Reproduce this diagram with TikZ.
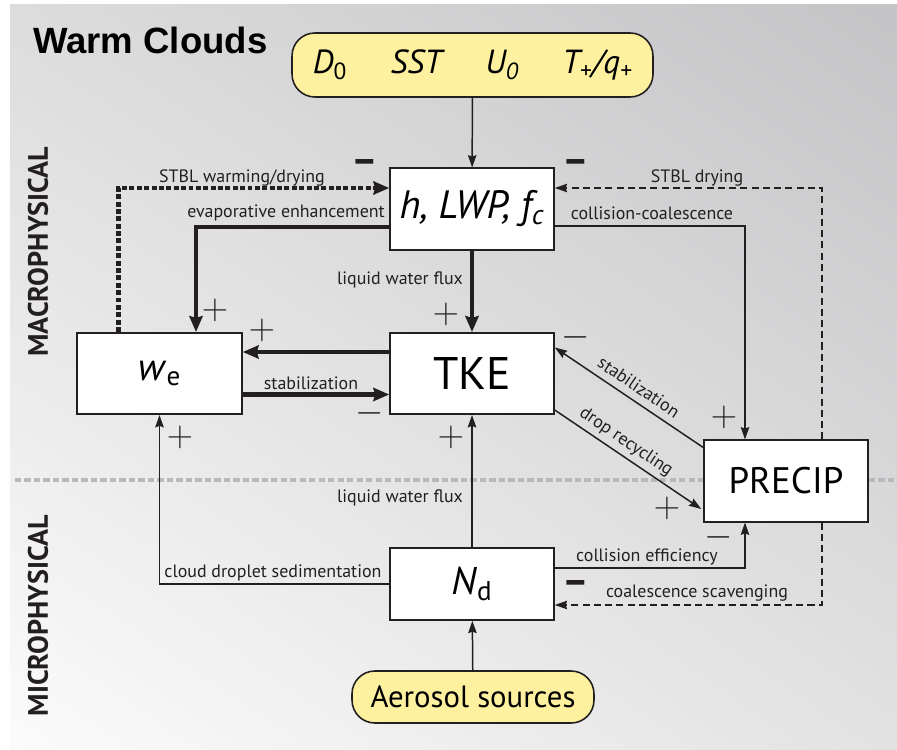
\documentclass[tikz,border=0pt]{standalone}
\usepackage{fontspec}
\setmainfont{PT Sans}
\newfontfamily\titlefont{Liberation Sans}
\usepackage{tikz}
\usetikzlibrary{arrows.meta, positioning, calc, shadings}
\definecolor{YL}{RGB}{253,241,160}
\definecolor{DG}{RGB}{35,31,32}
\definecolor{SEP}{RGB}{185,185,187}
\definecolor{BGul}{RGB}{220,220,221}
\definecolor{BGur}{RGB}{196,196,198}
\definecolor{BGll}{RGB}{251,251,251}
\definecolor{BGlr}{RGB}{226,226,227}

\begin{document}
\begin{tikzpicture}[x=0.02cm, y=-0.02cm,
  box/.style={draw=DG, line width=0.9pt, fill=white, inner sep=0pt,
              minimum width=3.28cm, minimum height=1.63cm, align=center},
  src/.style={draw=DG, line width=0.9pt, fill=YL, rounded corners=13pt,
              inner sep=0pt, align=center},
  lbl/.style={font=\fontsize{10.2}{11}\selectfont, text=DG, inner sep=0pt},
  sgn/.style={font=\fontsize{22}{22}\selectfont, text=DG, inner sep=0pt},
  bsgn/.style={font=\fontsize{23}{23}\selectfont\bfseries, text=DG, inner sep=0pt},
  thn/.style={draw=DG, line width=0.85pt, -{Stealth[length=7pt, width=4.8pt, inset=0.8pt]}},
  thk/.style={draw=DG, line width=2.7pt, -{Stealth[length=9pt, width=7.5pt, inset=1pt]}},
  dsh/.style={thn, dash pattern=on 4pt off 2.4pt},
  dot/.style={thk, line width=2.5pt, dash pattern=on 2.8pt off 1.4pt},
  side/.style={font=\fontsize{16}{17}\selectfont\bfseries, text=DG, rotate=90}
]
\useasboundingbox (0,0) rectangle (897,750);
% Background
\shade[upper left=BGul, upper right=BGur, lower left=BGll, lower right=BGlr]
  (10,5) rectangle (897,750);
\draw[SEP, line width=2.3pt, dash pattern=on 3.6pt off 1.8pt] (15,480) -- (897,480);

% Titles
\node[font=\titlefont\fontsize{20.8}{22}\selectfont\bfseries, anchor=west] (title) at (27,40) {Warm Clouds};
\node[side] (macro) at (38,252) {MACROPHYSICAL};
\node[side] (micro) at (38,616) {MICROPHYSICAL};

% Forcings
\node[src, minimum width=7.22cm, minimum height=1.28cm, font=\fontsize{19}{20}\selectfont\itshape] (forc) at (472.5,65)
  {\textit{D}\textsubscript{\upshape 0}\hspace{1.3em}\textit{SST}\hspace{1.3em}\textit{U}\textsubscript{0}\hspace{1.3em}\textit{T}\textsubscript{+}/\textit{q}\textsubscript{+}};
\node[src, minimum width=4.84cm, minimum height=1.04cm, font=\fontsize{17.5}{18}\selectfont] (aero) at (473,697) {Aerosol sources};

% Macrophysical
\node[box, font=\fontsize{22.5}{24}\selectfont\itshape] (cld) at (472,209) {h, LWP, f\textsubscript{c}};
\node[box, font=\fontsize{26}{26}\selectfont] (tke) at (472,373.5) {TKE};
\node[box, minimum width=3.3cm, font=\fontsize{22}{24}\selectfont] (we) at (159.5,373.5) {\textit{w}\textsubscript{e}};
\node[box, font=\fontsize{21}{24}\selectfont] (prc) at (786,481) {PRECIP};

% Microphysical
\node[box, minimum height=1.44cm, font=\fontsize{22}{24}\selectfont] (nd) at (472,584) {\textit{N}\textsubscript{d}};

% Connections
\draw[thn] (forc) -- (cld);
\draw[thk] (cld) -- (tke);
\draw[thk] ($(cld.west)+(0,18)$) -| ($(we.north)+(36.5,0)$);
\draw[dot] ($(we.north)+(-41,0)$) |- ($(cld.west)+(0,-21)$);
\draw[thk] ($(tke.west)+(0,-21.5)$) -- ($(we.east)+(0,-21.5)$);
\draw[thk] ($(we.east)+(0,21)$) -- ($(tke.west)+(0,21)$);
\draw[thn] ($(cld.east)+(0,17)$) -| ($(prc.north)+(-41,0)$);
\draw[dsh] ($(prc.north)+(36,0)$) |- ($(cld.east)+(0,-21)$);
\draw[thn] ($(prc.north west)+(0,8)$) -- ($(tke.east)+(0,-26)$);
\draw[thn] ($(tke.east)+(0,36.5)$) -- ($(prc.west)+(-2,28)$);
\draw[thn] (nd) -- (tke);
\draw[thn] (nd.west) -| (we.south);
\draw[thn] ($(nd.east)+(0,-16)$) -| ($(prc.south)+(-41,0)$);
\draw[dsh] ($(prc.south)+(36,0)$) |- ($(nd.east)+(0,21)$);
\draw[thn] (aero) -- (nd);

% Labels
\node[lbl] (l1) at (242,178) {STBL warming/drying};
\node[lbl] (l2) at (286,213) {evaporative enhancement};
\node[lbl] (l3) at (400,280) {liquid water flux};
\node[lbl] (l4) at (652,213) {collision-coalescence};
\node[lbl] (l5) at (697,178) {STBL drying};
\node[lbl] (l6) at (311,383) {stabilization};
\node[lbl, rotate=-34] (l7) at (639,387) {stabilization};
\node[lbl, rotate=-34] (l8) at (626,442) {drop recycling};
\node[lbl] (l9) at (400,498) {liquid water flux};
\node[lbl] (l10) at (273,573) {cloud droplet sedimentation};
\node[lbl] (l11) at (647,557) {collision efficiency};
\node[lbl] (l12) at (697,593) {coalescence scavenging};

% Signs
\node[bsgn] (s1) at (365,167) {–};
\node[bsgn] (s2) at (576,167) {–};
\node[sgn] (s3) at (215,310) {$+$};
\node[sgn] (s4) at (262,330) {$+$};
\node[sgn] (s5) at (446,314) {$+$};
\node[sgn] (s6) at (370,413) {$-$};
\node[sgn] (s7) at (576,337) {$-$};
\node[sgn] (s8) at (724,417) {$+$};
\node[sgn] (s9) at (451,437) {$+$};
\node[sgn] (s10) at (180,437) {$+$};
\node[sgn] (s11) at (667,508) {$+$};
\node[sgn] (s12) at (719,537) {$-$};
\node[bsgn] (s13) at (576,588) {–};
\end{tikzpicture}
\end{document}
